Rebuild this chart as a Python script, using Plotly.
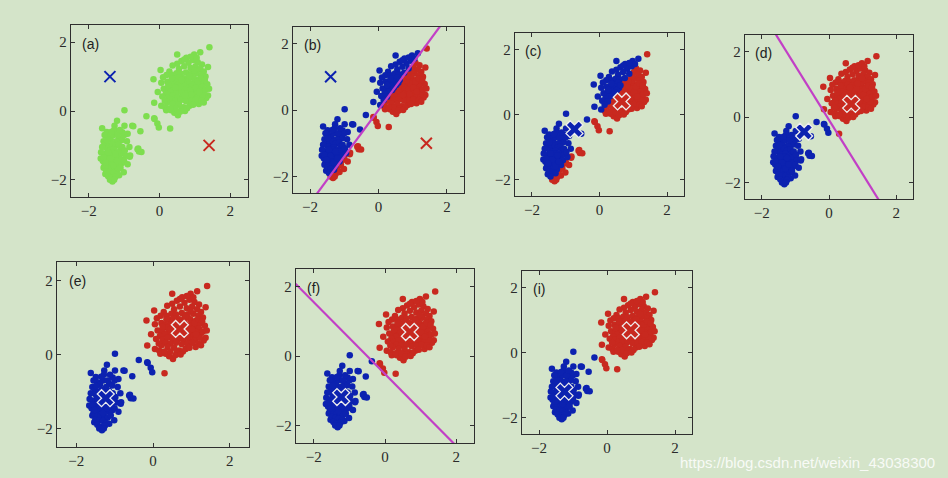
import numpy as np
import plotly.graph_objects as go

# ---- data (standardised Old Faithful-like data) ----
lower_x = [-0.99, -1.20, -1.27, -0.99, -0.77, -1.62, -1.49, -0.90, -0.54, -1.58, -1.14, -1.06,
           -0.62, -0.58, -1.66, -0.84, -1.06, -1.58, -1.53, -1.14, -1.01, -1.33, -0.60, -0.51,
           -0.74, -1.45, -1.38, -1.30, -1.22, -1.52, -1.42, -1.33, -1.25, -1.15, -1.10, -1.48,
           -1.40, -1.30, -1.20, -1.12, -1.02, -1.55, -1.45, -1.35, -1.27, -1.18, -1.08, -1.60,
           -1.50, -1.40, -1.32, -1.22, -1.14, -1.55, -1.45, -1.36, -1.26, -1.18, -1.50, -1.40,
           -1.30, -1.22, -1.45, -1.36, -1.25, -1.28, -1.35, -1.55, -1.00, -1.05, -0.92, -0.85,
           -0.95, -1.00, -0.90, -1.62, -1.65, -1.58, -1.48, -1.18, -1.12, -1.40, -1.30, -1.40,
           -1.20, -1.35, -1.25, -1.45, -1.52, -1.05, -0.98, -1.10, -1.28, -0.83]
lower_y = [0.02, -0.28, -0.43, -0.43, -0.43, -0.50, -0.61, -0.66, -0.59, -0.88, -0.79, -0.84,
           -1.11, -1.18, -1.38, -1.33, -1.51, -1.65, -1.83, -1.87, -1.78, -2.05, -1.09, -1.19,
           -0.44, -0.75, -0.82, -0.70, -0.88, -0.95, -1.00, -0.95, -1.02, -0.98, -1.10, -1.10,
           -1.15, -1.12, -1.20, -1.25, -1.22, -1.25, -1.28, -1.30, -1.35, -1.38, -1.40, -1.45,
           -1.42, -1.48, -1.50, -1.52, -1.55, -1.58, -1.62, -1.65, -1.68, -1.70, -1.75, -1.78,
           -1.80, -1.85, -1.90, -1.95, -1.92, -0.55, -0.60, -0.70, -0.70, -0.62, -0.88, -1.05,
           -1.30, -1.45, -1.55, -1.05, -1.20, -1.35, -0.85, -0.70, -0.55, -2.00, -1.58, -1.38,
           -1.45, -1.20, -1.25, -1.20, -1.50, -1.05, -1.15, -1.65, -2.00, -1.29]

bridge_x = [-0.37, -0.15, -0.06, -0.02, -0.14, 0.30]
bridge_y = [-0.15, -0.21, -0.36, -0.48, -0.23, -0.51]

upper_x = [1.41, 1.15, 0.98, 0.50, 0.76, 0.50, 0.37, 0.03, -0.17, 1.37, -0.05, -0.15, 0.05,
           1.37, 1.32, 0.42, 0.33, 0.16, 0.68, 0.85, 1.11, 0.52, 0.19,
           0.62, 0.82, 0.95, 1.08, 1.20, 0.70, 0.88, 1.02, 1.15, 0.55, 0.28, 1.25,
           0.20, 0.35, 0.48, 0.60, 0.75, 0.90, 1.05, 1.18, 1.30, 0.40, 0.55, 0.68, 0.82, 0.97, 1.12, 0.10,
           0.05, 0.22, 0.32, 0.45, 0.58, 0.72, 0.85, 1.00, 1.15, 1.25, 1.35, 0.38, 0.52, 0.65, 0.78,
           0.92, 1.06, 1.20,
           0.12, 0.25, 0.40, 0.55, 0.70, 0.85, 0.98, 1.10, 1.25, 0.30, 0.48, 0.62, 0.78, 0.92, 1.05,
           1.18, 0.18,
           0.08, 0.25, 0.38, 0.52, 0.66, 0.80, 0.95, 1.10, 1.22, 0.32, 0.45, 0.60, 0.75, 0.90, 1.02, 1.18,
           0.22, 0.38, 0.55, 0.95, 1.25, 0.45, 0.62, 0.78, 0.30, 0.58, 0.72,
           0.75, 0.88, 0.95, 1.02, 0.82, 0.68, 0.58, 0.90, 1.08, 1.12, 0.72, 0.85, 0.62, 1.18, 0.98,
           0.45, 1.30, 1.28, 0.35, 0.25, 1.40, 0.15, 1.05, 0.88, 0.70]
upper_y = [1.85, 1.71, 1.64, 1.64, 1.55, 1.37, 1.32, 1.19, 0.92, 1.28, 0.55, 0.24, 0.15,
           0.45, 0.38, -0.05, 0.02, 0.11, 0.11, 0.15, 0.20, -0.12, 0.02,
           1.45, 1.40, 1.48, 1.42, 1.35, 1.30, 1.25, 1.30, 1.22, 1.22, 1.15, 1.15,
           1.05, 1.05, 1.10, 1.08, 1.12, 1.08, 1.10, 1.05, 1.00, 0.95, 0.98, 0.95, 0.98, 0.95, 0.92, 0.98,
           0.82, 0.85, 0.80, 0.85, 0.82, 0.86, 0.80, 0.85, 0.80, 0.85, 0.78, 0.72, 0.75, 0.72, 0.75,
           0.72, 0.75, 0.70,
           0.65, 0.62, 0.60, 0.65, 0.62, 0.65, 0.60, 0.62, 0.58, 0.55, 0.52, 0.55, 0.52, 0.55, 0.50,
           0.52, 0.50,
           0.42, 0.40, 0.45, 0.40, 0.42, 0.38, 0.42, 0.40, 0.45, 0.32, 0.30, 0.32, 0.28, 0.30, 0.32, 0.30,
           0.25, 0.20, 0.18, 0.18, 0.25, 0.08, 0.05, 0.08, 0.08, -0.02, 0.00,
           0.68, 0.62, 0.78, 0.68, 0.88, 0.80, 0.70, 0.48, 0.85, 0.55, 0.45, 1.02, 0.90, 0.95, 1.18,
           0.68, 0.62, 0.90, 0.95, 0.75, 0.65, 0.30, 1.55, 1.58, 1.50]

# centroids (blue, red)
cent_init = [(-1.40, 1.00), (1.40, -1.00)]
cent_1 = [(-0.74, -0.45), (0.66, 0.40)]
cent_2 = [(-1.23, -1.18), (0.70, 0.69)]
cent_3 = [(-1.25, -1.20), (0.70, 0.68)]

panel_labels = ["(a)", "(b)", "(c)", "(d)", "(e)", "(f)", "(i)"]
tick_vals = [-2, 0, 2]

X = np.array(lower_x + bridge_x + upper_x)
Y = np.array(lower_y + bridge_y + upper_y)

BLUE = "#0c22b0"
RED = "#c8291f"
GREEN = "#7ede4f"
MAG = "#c23fc6"
BG = "#d4e4c9"


def assign(cents):
    (bx, by), (rx, ry) = cents
    db = (X - bx) ** 2 + (Y - by) ** 2
    dr = (X - rx) ** 2 + (Y - ry) ** 2
    return db <= dr  # True -> blue


def bisector(cents):
    (bx, by), (rx, ry) = cents
    mx, my = (bx + rx) / 2, (by + ry) / 2
    dx, dy = rx - bx, ry - by
    xs = np.array([-4.0, 4.0])
    ys = my - dx / dy * (xs - mx)
    return xs, ys


# panel: (labels-from centroids or None, shown centroids, line centroids, centroid style)
panels = [
    (None, cent_init, None, "thin"),
    (cent_init, cent_init, cent_init, "thin"),
    (cent_init, cent_1, None, "bold"),
    (cent_1, cent_1, cent_1, "bold"),
    (cent_1, cent_2, None, "bold"),
    (cent_2, cent_2, cent_2, "bold"),
    (cent_2, cent_3, None, "bold"),
]

# frame pixel boxes (left, top, right, bottom)
W, H = 948, 478
boxes = [(71, 25, 248, 197), (293, 27, 464, 193), (515, 33, 684, 196), (745, 35, 913, 199),
         (57, 262, 249, 447), (296, 269, 474, 443), (522, 271, 692, 434)]

fig = go.Figure()
layout = dict(width=W, height=H, margin=dict(l=0, r=0, t=0, b=0),
              paper_bgcolor=BG, plot_bgcolor=BG, showlegend=False)
annotations = []

for i, (lab_c, show_c, line_c, style) in enumerate(panels):
    n = i + 1
    xa = "x" if n == 1 else f"x{n}"
    ya = "y" if n == 1 else f"y{n}"
    l, t, r, b = boxes[i]
    axcommon = dict(range=[-2.5, 2.5], tickvals=tick_vals, ticks="inside", ticklen=4,
                    tickcolor="#333", showline=True, linecolor="#2e2e2e", linewidth=1.4,
                    mirror="allticks", showgrid=False, zeroline=False,
                    tickfont=dict(family="Liberation Serif", size=15, color="#2a2a2a"))
    layout["xaxis" if n == 1 else f"xaxis{n}"] = dict(domain=[l / W, r / W], anchor=ya, **axcommon)
    layout["yaxis" if n == 1 else f"yaxis{n}"] = dict(domain=[1 - b / H, 1 - t / H], anchor=xa, **axcommon)

    if lab_c is None:
        fig.add_trace(go.Scatter(x=X, y=Y, mode="markers", xaxis=xa, yaxis=ya,
                                 marker=dict(size=6.5, color=GREEN), hoverinfo="skip"))
    else:
        isb = assign(lab_c)
        fig.add_trace(go.Scatter(x=X[~isb], y=Y[~isb], mode="markers", xaxis=xa, yaxis=ya,
                                 marker=dict(size=6.5, color=RED), hoverinfo="skip"))
        fig.add_trace(go.Scatter(x=X[isb], y=Y[isb], mode="markers", xaxis=xa, yaxis=ya,
                                 marker=dict(size=6.5, color=BLUE), hoverinfo="skip"))
    if line_c is not None:
        lx, ly = bisector(line_c)
        fig.add_trace(go.Scatter(x=lx, y=ly, mode="lines", xaxis=xa, yaxis=ya,
                                 line=dict(color=MAG, width=2.2), hoverinfo="skip"))
    for (cx, cy), col in zip(show_c, [BLUE, RED]):
        if style == "thin":
            mk = dict(symbol="x-thin", size=11, line=dict(color=col, width=2))
        else:
            mk = dict(symbol="x", size=15, color=col, line=dict(color="#eeeeee", width=1.3))
        fig.add_trace(go.Scatter(x=[cx], y=[cy], mode="markers", xaxis=xa, yaxis=ya,
                                 marker=mk, hoverinfo="skip", cliponaxis=False))
    annotations.append(dict(text=panel_labels[i], xref=f"{xa} domain", yref=f"{ya} domain",
                            x=0.05, y=0.95, xanchor="left", yanchor="top", showarrow=False,
                            font=dict(family="Liberation Sans", size=14, color="#222")))

annotations.append(dict(text="https://blog.csdn.net/weixin_43038300", xref="paper", yref="paper",
                        x=937 / W, y=1 - 462 / H, xanchor="right", yanchor="middle", showarrow=False,
                        font=dict(family="Liberation Sans", size=15, color="rgba(255,255,255,0.85)")))
layout["annotations"] = annotations
fig.update_layout(**layout)
fig.write_html("out.html")
